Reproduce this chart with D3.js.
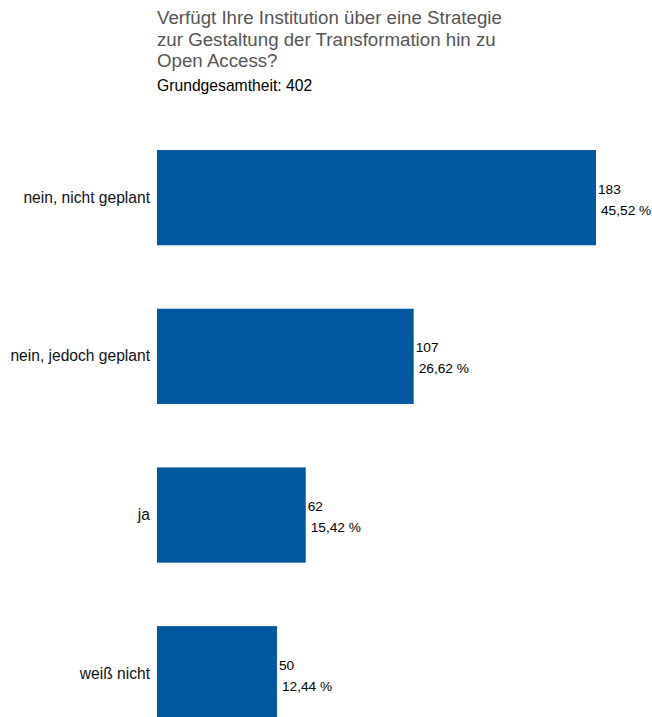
<!DOCTYPE html>
<html>
<head>
<meta charset="utf-8">
<script src="https://cdn.jsdelivr.net/npm/d3@7"></script>
<style>
  body { margin: 0; background: #fff; }
  text { font-family: "Liberation Sans", Arial, Helvetica, sans-serif; }
</style>
</head>
<body>
<div id="chart"></div>
<script>
var categories = ["nein, nicht geplant", "nein, jedoch geplant", "ja", "weiß nicht"];
var counts = [183, 107, 62, 50];
var percents = ["45,52 %", "26,62 %", "15,42 %", "12,44 %"];
var titleLines = ["Verfügt Ihre Institution über eine Strategie", "zur Gestaltung der Transformation hin zu", "Open Access?"];
var subtitle = "Grundgesamtheit: 402";

var width = 652, height = 717;
var left = 157;

var svg = d3.select("#chart").append("svg")
    .attr("width", width)
    .attr("height", height);

svg.append("g").selectAll("text")
    .data(titleLines)
    .enter().append("text")
    .attr("x", left)
    .attr("y", function(d, i) { return 24 + i * 21.5; })
    .attr("font-size", 18.7)
    .attr("fill", "#555")
    .text(function(d) { return d; });

svg.append("text")
    .attr("x", left)
    .attr("y", 91)
    .attr("font-size", 15.7)
    .attr("fill", "#000")
    .text(subtitle);

var data = categories.map(function(c, i) {
    return {cat: c, count: counts[i], pct: percents[i]};
});

var x = d3.scaleLinear().domain([0, 183]).range([0, 439]);
var y = d3.scaleBand().domain(categories)
    .range([118.3, 753.1])
    .paddingInner(0.4)
    .paddingOuter(0.2);

var g = svg.append("g").attr("transform", "translate(" + left + ",0)");

g.selectAll(".bar")
    .data(data)
    .enter().append("rect")
    .attr("class", "bar")
    .attr("x", 0)
    .attr("y", function(d) { return y(d.cat); })
    .attr("width", function(d) { return x(d.count); })
    .attr("height", y.bandwidth())
    .attr("fill", "#0059a0");

g.selectAll(".cnt")
    .data(data)
    .enter().append("text")
    .attr("class", "cnt")
    .attr("x", function(d) { return x(d.count) + 2; })
    .attr("y", function(d) { return y(d.cat) + y.bandwidth() / 2 - 4; })
    .attr("font-size", 13.7)
    .text(function(d) { return d.count; });

g.selectAll(".pct")
    .data(data)
    .enter().append("text")
    .attr("class", "pct")
    .attr("x", function(d) { return x(d.count) + 5; })
    .attr("y", function(d) { return y(d.cat) + y.bandwidth() / 2 + 17; })
    .attr("font-size", 13.7)
    .text(function(d) { return d.pct; });

g.append("g")
    .call(d3.axisLeft(y).tickSize(0).tickPadding(7))
    .call(function(ax) { ax.select(".domain").remove(); })
    .selectAll("text")
    .attr("font-size", 15.6)
    .attr("fill", "#111")
    .attr("font-family", "Liberation Sans, Arial, sans-serif");
</script>
</body>
</html>
